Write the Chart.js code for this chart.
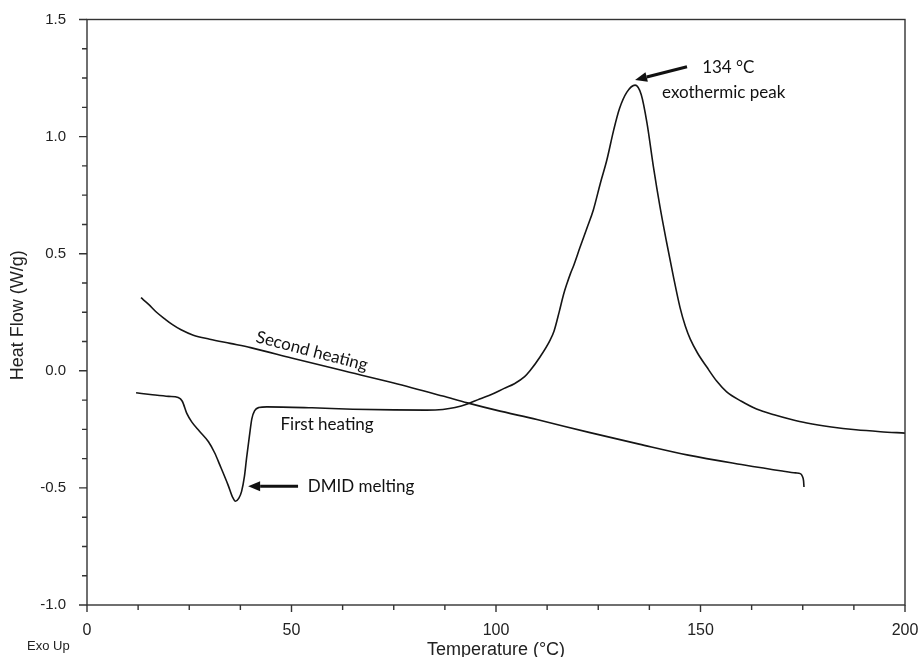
<!DOCTYPE html>
<html>
<head>
<meta charset="utf-8">
<script src="https://cdn.jsdelivr.net/npm/chart.js@4.4.1/dist/chart.umd.min.js"></script>
<style>
  html, body { margin: 0; padding: 0; background: #fff; }
  #wrap { width: 918px; height: 657px; }
</style>
</head>
<body>
<div id="wrap"><canvas id="dscChart" width="918" height="657"></canvas></div>
<script>
// DSC heating runs: temperature (°C) against heat flow (W/g)
const firstTemp = [12, 16, 20, 22.3, 23.3, 24.4, 25.6, 27.5, 29.7, 31.2, 32.5, 34.5, 35.6, 36.3, 37.1, 37.8,
  38.5, 39.0, 39.7, 40.3, 41.0, 42.0, 44, 55, 65, 75, 83, 87, 90, 93, 96, 99, 102, 104.5, 107, 108.3,
  110.8, 113.2, 114.2, 115.5, 116.5, 117.4, 118.2, 119, 120.5, 122.2, 123.8, 125.5, 127.1, 128.8, 130.2,
  132, 134, 135.5, 136.9, 138.5, 140.1, 141.7, 143.4, 145, 146.3, 147.5, 149.3, 151.5, 154, 156.4, 160,
  163.7, 168, 172, 176, 182, 188, 194, 200];
const firstFlow = [-0.094, -0.102, -0.109, -0.114, -0.13, -0.182, -0.218, -0.258, -0.303, -0.35, -0.403,
  -0.488, -0.54, -0.557, -0.545, -0.515, -0.45, -0.375, -0.28, -0.205, -0.17, -0.157, -0.154, -0.158,
  -0.164, -0.167, -0.168, -0.165, -0.157, -0.142, -0.12, -0.1, -0.075, -0.055, -0.025, 0.0,
  0.06, 0.13, 0.17, 0.255, 0.325, 0.375, 0.415, 0.45, 0.525, 0.608, 0.687, 0.80, 0.90, 1.03, 1.12,
  1.19, 1.22, 1.18, 1.06, 0.87, 0.70, 0.55, 0.40, 0.27, 0.19, 0.135, 0.075, 0.017, -0.045, -0.09, -0.13,
  -0.163, -0.188, -0.207, -0.223, -0.24, -0.252, -0.26, -0.266];

const secondTemp = [13.2, 15, 17, 19, 21, 23, 26, 30, 35, 40, 50, 62, 75, 87, 93, 100, 110, 123, 135, 147,
  160, 170, 173.3, 174.4, 174.9, 175.2, 175.3];
const secondFlow = [0.312, 0.285, 0.25, 0.222, 0.196, 0.175, 0.152, 0.135, 0.117, 0.099, 0.055, 0.003,
  -0.052, -0.108, -0.137, -0.168, -0.208, -0.264, -0.313, -0.36, -0.40, -0.428, -0.436, -0.439, -0.45,
  -0.47, -0.496];

// axis ranges and labelled ticks
const tempRange = [0, 200];
const flowRange = [-1.0, 1.5];
const tempLabels = [0, 50, 100, 150, 200];
const flowLabels = [-1.0, -0.5, 0.0, 0.5, 1.0, 1.5];

// annotated exotherm
const peakTemp = 134;
const peakFlow = 1.22;

// curve labels, anchored in data units
const noteText = ['Second heating', 'First heating', 'DMID melting', peakTemp + ' °C', 'exothermic peak'];
const noteTemp = [55.0, 58.7, 54.0, 150.4, 140.6];
const noteFlow = [0.084, -0.228, -0.493, 1.294, 1.19];

// arrows: tail -> head
const arrowFromTemp = [51.6, 146.7];
const arrowFromFlow = [-0.493, 1.298];
const arrowToTemp = [39.4, peakTemp];
const arrowToFlow = [-0.493, peakFlow + 0.022];

const toPoints = (xs, ys) => xs.map((t, i) => ({ x: t, y: ys[i] }));
const isLabelled = (list, v) => list.some(l => Math.abs(l - v) < 1e-6);

const drawArrow = (ctx, x1, y1, x2, y2) => {
  const ang = Math.atan2(y2 - y1, x2 - x1);
  const head = 12, half = 5;
  const bx = x2 - head * Math.cos(ang), by = y2 - head * Math.sin(ang);
  ctx.beginPath();
  ctx.moveTo(x1, y1);
  ctx.lineTo(bx, by);
  ctx.lineWidth = 3.2;
  ctx.stroke();
  ctx.beginPath();
  ctx.moveTo(x2, y2);
  ctx.lineTo(bx + half * Math.sin(ang), by - half * Math.cos(ang));
  ctx.lineTo(bx - half * Math.sin(ang), by + half * Math.cos(ang));
  ctx.closePath();
  ctx.fill();
};

// frame, tick marks, axis titles and annotations
const dscDecor = {
  id: 'dscDecor',
  afterDraw(chart) {
    const { ctx, chartArea: a, scales: { x, y } } = chart;
    ctx.save();
    ctx.strokeStyle = '#333';
    ctx.lineWidth = 1.4;
    ctx.strokeRect(a.left, a.top, a.right - a.left, a.bottom - a.top);

    ctx.beginPath();
    x.ticks.forEach(t => {
      const px = x.getPixelForValue(t.value);
      const len = isLabelled(tempLabels, t.value) ? 7 : 5;
      ctx.moveTo(px, a.bottom);
      ctx.lineTo(px, a.bottom + len);
    });
    y.ticks.forEach(t => {
      const py = y.getPixelForValue(t.value);
      const len = isLabelled(flowLabels, t.value) ? 8 : 5;
      ctx.moveTo(a.left, py);
      ctx.lineTo(a.left - len, py);
    });
    ctx.stroke();

    // axis titles
    ctx.fillStyle = '#222';
    ctx.font = '18px "Liberation Sans", Arial, sans-serif';
    ctx.textAlign = 'center';
    ctx.textBaseline = 'middle';
    ctx.fillText('Temperature (°C)', (a.left + a.right) / 2, 650);
    ctx.save();
    ctx.translate(18.5, (a.top + a.bottom) / 2 + 3);
    ctx.rotate(-Math.PI / 2);
    ctx.fillText('Heat Flow (W/g)', 0, 0);
    ctx.restore();
    ctx.font = '13px "Liberation Sans", Arial, sans-serif';
    ctx.textAlign = 'left';
    ctx.fillText('Exo Up', 27, 646);

    // curve labels
    ctx.fillStyle = '#111';
    ctx.strokeStyle = '#111';
    ctx.font = '17px Lato, "Open Sans", sans-serif';
    noteText.forEach((txt, i) => {
      const px = x.getPixelForValue(noteTemp[i]);
      const py = y.getPixelForValue(noteFlow[i]);
      ctx.save();
      ctx.translate(px, py);
      if (i === 0) ctx.rotate(14.5 * Math.PI / 180);
      ctx.textAlign = i < 2 ? 'center' : 'left';
      ctx.fillText(txt, 0, 0);
      ctx.restore();
    });

    arrowFromTemp.forEach((t, i) => {
      drawArrow(ctx,
        x.getPixelForValue(t), y.getPixelForValue(arrowFromFlow[i]),
        x.getPixelForValue(arrowToTemp[i]), y.getPixelForValue(arrowToFlow[i]));
    });
    ctx.restore();
  }
};

const lineStyle = {
  borderColor: '#151515',
  borderWidth: 1.6,
  pointRadius: 0,
  showLine: true,
  fill: false,
  cubicInterpolationMode: 'monotone'
};

new Chart(document.getElementById('dscChart'), {
  type: 'scatter',
  data: {
    datasets: [
      { label: 'First heating', data: toPoints(firstTemp, firstFlow), ...lineStyle },
      { label: 'Second heating', data: toPoints(secondTemp, secondFlow), ...lineStyle }
    ]
  },
  options: {
    responsive: false,
    animation: false,
    devicePixelRatio: 1,
    layout: { padding: { top: 19.5, right: 13, bottom: 0, left: 0 } },
    plugins: { legend: { display: false }, tooltip: { enabled: false } },
    scales: {
      x: {
        type: 'linear',
        min: tempRange[0],
        max: tempRange[1],
        grid: { display: false },
        border: { display: false },
        afterFit: axis => {
          axis.height = 52;
          axis.paddingLeft = 0;
          axis.paddingRight = 0;
        },
        ticks: {
          stepSize: 12.5,
          autoSkip: false,
          maxRotation: 0,
          padding: 8,
          color: '#222',
          font: { family: '"Liberation Sans", Arial, sans-serif', size: 16 },
          callback: v => isLabelled(tempLabels, v) ? String(Math.round(v)) : ''
        }
      },
      y: {
        type: 'linear',
        min: flowRange[0],
        max: flowRange[1],
        grid: { display: false },
        border: { display: false },
        afterFit: axis => {
          axis.width = 87;
          axis.paddingTop = 0;
          axis.paddingBottom = 0;
        },
        ticks: {
          stepSize: 0.125,
          autoSkip: false,
          padding: 13,
          color: '#222',
          font: { family: '"Liberation Sans", Arial, sans-serif', size: 15 },
          callback: v => isLabelled(flowLabels, v) ? v.toFixed(1) : ''
        }
      }
    }
  },
  plugins: [dscDecor]
});
</script>
</body>
</html>
